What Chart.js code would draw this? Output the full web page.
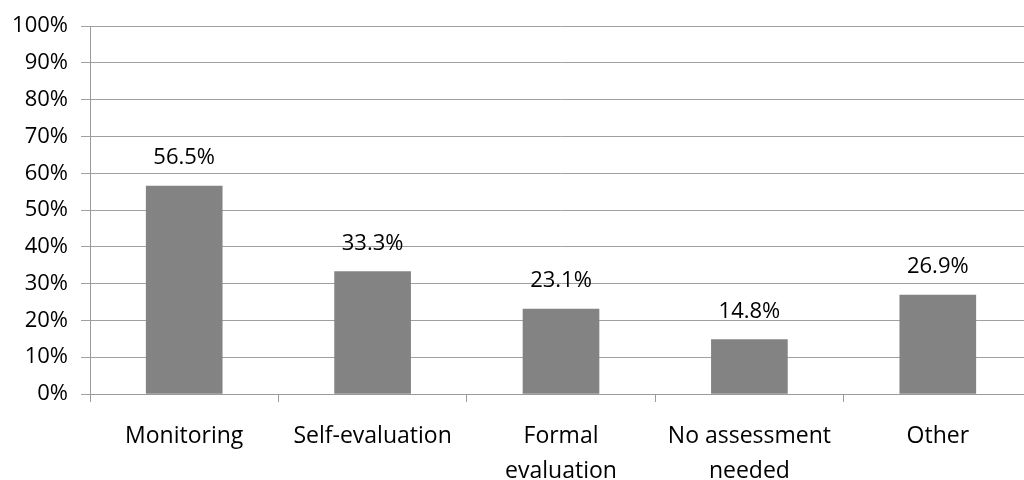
<!DOCTYPE html>
<html>
<head>
<meta charset="utf-8">
<script src="https://cdn.jsdelivr.net/npm/chart.js@4/dist/chart.umd.min.js"></script>
<style>
html,body{margin:0;padding:0;background:#fff;overflow:hidden;}
#wrap{width:1040px;height:480px;position:relative;}
</style>
</head>
<body>
<div id="wrap"><canvas id="c"></canvas></div>
<script>
const categories = [["Monitoring"], ["Self-evaluation"], ["Formal", "evaluation"], ["No assessment", "needed"], ["Other"]];
const values = [56.5, 33.3, 23.1, 14.8, 26.9];
const valueLabels = ["56.5%", "33.3%", "23.1%", "14.8%", "26.9%"];
const yTicks = [0, 10, 20, 30, 40, 50, 60, 70, 80, 90, 100];

const FONT = "'Open Sans', sans-serif";

const barLabels = {
  id: 'barLabels',
  afterDatasetsDraw(chart) {
    const ctx = chart.ctx;
    const meta = chart.getDatasetMeta(0);
    ctx.save();
    ctx.font = "22px " + FONT;
    ctx.fillStyle = "#000";
    ctx.textAlign = "center";
    ctx.textBaseline = "alphabetic";
    meta.data.forEach((el, i) => {
      ctx.fillText(valueLabels[i], el.x, el.y - 22);
    });
    ctx.restore();
  }
};

new Chart(document.getElementById('c'), {
  type: 'bar',
  data: {
    labels: categories,
    datasets: [{
      data: values,
      backgroundColor: '#838383',
      borderWidth: 0,
      barThickness: 76
    }]
  },
  options: {
    responsive: true,
    maintainAspectRatio: false,
    animation: false,
    layout: { padding: { top: 25, right: 8, left: 0, bottom: 0 } },
    plugins: { legend: { display: false }, tooltip: { enabled: false } },
    scales: {
      x: {
        offset: true,
        grid: { offset: true, drawOnChartArea: false, drawTicks: true, tickLength: 8, color: '#9a9a9a' },
        border: { color: '#9a9a9a', width: 1 },
        ticks: { color: '#000', font: { family: FONT, size: 23, lineHeight: 1.52 }, padding: 17, maxRotation: 0, autoSkip: false },
        afterFit(s) { s.height = 86; }
      },
      y: {
        min: 0, max: 100,
        afterBuildTicks(s) { s.ticks = yTicks.map(v => ({ value: v })); },
        grid: { color: '#a0a0a0', tickLength: 9, drawTicks: true },
        border: { color: '#9a9a9a', width: 1 },
        ticks: { color: '#000', font: { family: FONT, size: 22 }, padding: 13, callback: v => v + '%' },
        afterFit(s) { s.width = 90; }
      }
    }
  },
  plugins: [barLabels]
});
</script>
</body>
</html>
